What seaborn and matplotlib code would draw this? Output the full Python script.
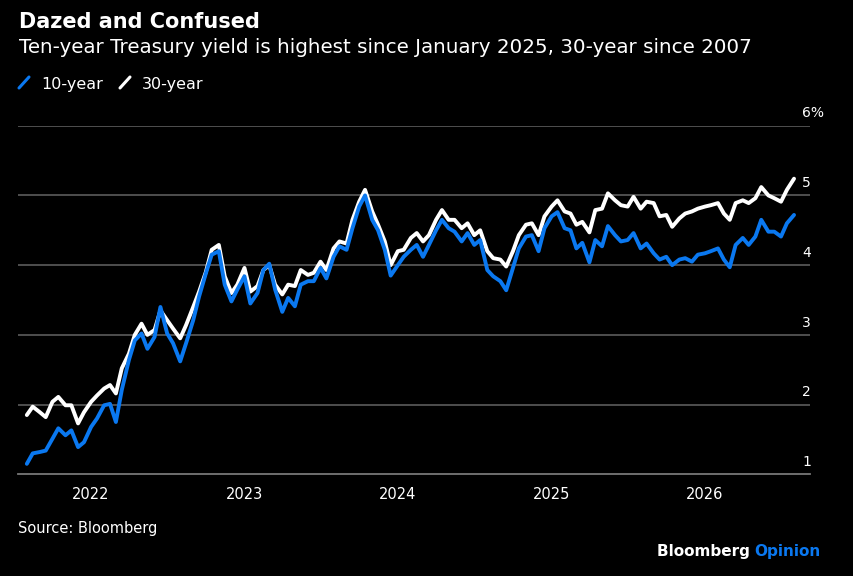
import pandas as pd
import matplotlib
matplotlib.use("Agg")
import matplotlib.pyplot as plt
import matplotlib.dates as mdates
from matplotlib.lines import Line2D
import seaborn as sns

# semi-monthly readings, Aug 2021 - Aug 2026
dates = pd.date_range("2021-08-01", "2026-08-01", freq="SMS")

ten_year = [1.15, 1.30, 1.32, 1.34, 1.51, 1.66, 1.56, 1.63, 1.39, 1.46,
            1.68, 1.80, 1.99, 2.01, 1.75, 2.21, 2.64, 2.92, 3.02, 2.80,
            2.97, 3.40, 3.02, 2.88, 2.62, 2.88, 3.21, 3.55, 3.88, 4.15,
            4.20, 3.72, 3.48, 3.65, 3.84, 3.45, 3.60, 3.93, 4.02, 3.65,
            3.33, 3.53, 3.41, 3.72, 3.77, 3.77, 3.96, 3.81, 4.12, 4.27,
            4.22, 4.53, 4.84, 5.00, 4.65, 4.50, 4.22, 3.85, 4.00, 4.12,
            4.22, 4.29, 4.12, 4.29, 4.50, 4.65, 4.53, 4.48, 4.34, 4.46,
            4.29, 4.36, 3.93, 3.84, 3.77, 3.64, 3.96, 4.24, 4.41, 4.43,
            4.20, 4.53, 4.70, 4.76, 4.53, 4.50, 4.24, 4.32, 4.04, 4.36,
            4.27, 4.56, 4.43, 4.34, 4.36, 4.46, 4.24, 4.31, 4.17, 4.08,
            4.12, 4.00, 4.08, 4.10, 4.05, 4.15, 4.17, 4.20, 4.24, 4.08,
            3.97, 4.29, 4.39, 4.29, 4.41, 4.65, 4.48, 4.48, 4.41, 4.60,
            4.72]

thirty_year = [1.85, 1.97, 1.89, 1.82, 2.04, 2.11, 1.99, 1.99, 1.73, 1.89,
               2.04, 2.13, 2.23, 2.28, 2.16, 2.52, 2.73, 3.00, 3.16, 3.00,
               3.07, 3.35, 3.21, 3.09, 2.95, 3.14, 3.40, 3.62, 3.90, 4.22,
               4.29, 3.84, 3.60, 3.72, 3.96, 3.62, 3.70, 3.93, 4.00, 3.72,
               3.58, 3.72, 3.70, 3.93, 3.86, 3.89, 4.05, 3.93, 4.24, 4.34,
               4.31, 4.65, 4.91, 5.08, 4.77, 4.58, 4.34, 4.00, 4.20, 4.22,
               4.39, 4.46, 4.34, 4.43, 4.65, 4.79, 4.65, 4.65, 4.53, 4.60,
               4.43, 4.50, 4.20, 4.10, 4.08, 3.98, 4.20, 4.43, 4.58, 4.60,
               4.43, 4.70, 4.84, 4.93, 4.77, 4.74, 4.58, 4.62, 4.47, 4.79,
               4.81, 5.03, 4.93, 4.86, 4.84, 4.98, 4.81, 4.91, 4.89, 4.70,
               4.72, 4.55, 4.67, 4.74, 4.77, 4.81, 4.84, 4.86, 4.89, 4.74,
               4.65, 4.89, 4.93, 4.89, 4.96, 5.12, 5.00, 4.96, 4.91, 5.08,
               5.24]

y_ticks = [1, 2, 3, 4, 5, 6]
y_labels = ["1", "2", "3", "4", "5", "6%"]

BLUE = "#0a78f0"
W, H = 854, 576

sns.set_style("dark")
plt.rcParams["font.family"] = ["DejaVu Sans"]

fig = plt.figure(figsize=(W / 100, H / 100), dpi=100, facecolor="black")
ax = fig.add_axes([18 / W, 1 - 474.3 / H, 792 / W, (474.3 - 125.7) / H])
ax.set_facecolor("black")

sns.lineplot(x=dates, y=thirty_year, color="white", linewidth=2.8, ax=ax)
sns.lineplot(x=dates, y=ten_year, color=BLUE, linewidth=2.8, ax=ax)

ax.set_xlim(pd.Timestamp("2021-07-11"), pd.Timestamp("2026-09-08"))
ax.set_ylim(1, 6)
ax.set_yticks(y_ticks)
ax.set_yticklabels([])
ax.tick_params(axis="y", length=0)
ax.grid(False)
for v in y_ticks[1:]:
    ax.axhline(v, color="#555555", linewidth=1.3, zorder=0)
for v, lab in zip(y_ticks, y_labels):
    ax.annotate(lab, xy=(0.99, v), xycoords=("axes fraction", "data"),
                xytext=(0, 6), textcoords="offset points",
                color="white", fontsize=10, ha="left", va="baseline",
                annotation_clip=False)

ax.xaxis.set_major_locator(mdates.YearLocator())
ax.xaxis.set_major_formatter(mdates.DateFormatter("%Y"))
ax.xaxis.set_minor_locator(mdates.MonthLocator())
ax.tick_params(axis="x", which="major", length=6, width=1.2, color="#bbbbbb",
               labelcolor="white", labelsize=10.5, pad=3)
ax.tick_params(axis="x", which="minor", length=3.5, width=1, color="#888888")
for s in ["top", "left", "right"]:
    ax.spines[s].set_visible(False)
ax.spines["bottom"].set_color("#777777")
ax.spines["bottom"].set_linewidth(1.3)
ax.set_xlabel("")
ax.set_ylabel("")

fig.text(19 / W, 1 - 28 / H, "Dazed and Confused", color="white",
         fontsize=15, fontweight="bold", va="baseline")
fig.text(19 / W, 1 - 53 / H,
         "Ten-year Treasury yield is highest since January 2025, 30-year since 2007",
         color="white", fontsize=14.3, va="baseline")

# legend
for x0, col, lab in [(19, BLUE, "10-year"), (120, "white", "30-year")]:
    fig.add_artist(Line2D([x0 / W, (x0 + 10) / W], [1 - 88 / H, 1 - 77 / H],
                          color=col, linewidth=2.2, transform=fig.transFigure))
    fig.text((x0 + 22) / W, 1 - 89 / H, lab, color="white", fontsize=11.5,
             va="baseline")

fig.text(18 / W, 1 - 533 / H, "Source: Bloomberg", color="white",
         fontsize=10.5, va="baseline")
op = fig.text(821 / W, 1 - 556 / H, "Opinion", color=BLUE, fontsize=11,
              fontweight="bold", ha="right", va="baseline")
ax.annotate("Bloomberg ", xy=(0, 0), xycoords=op, ha="right", va="bottom",
            color="white", fontsize=11, fontweight="bold", annotation_clip=False)

fig.savefig("out.png", dpi=100, facecolor="black")
